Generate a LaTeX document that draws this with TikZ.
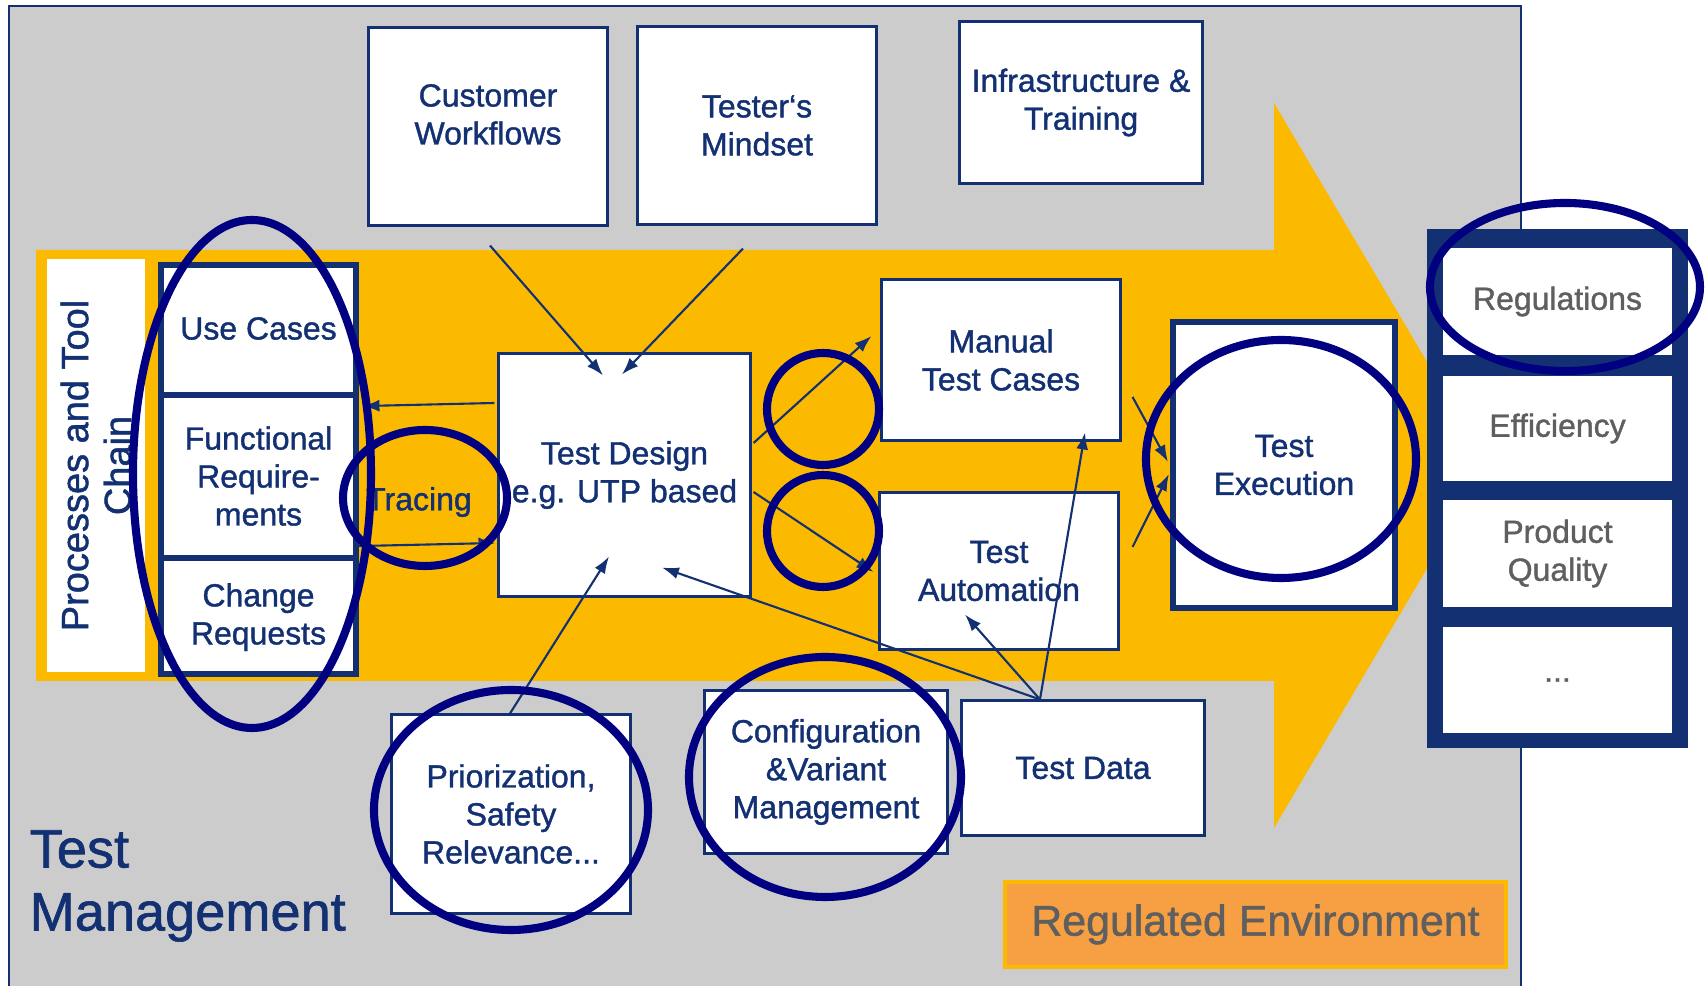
\documentclass[tikz,border=0pt]{standalone}
\usepackage{fontspec}
\setmainfont{Liberation Sans}[FakeBold=1.2]
\usetikzlibrary{shapes,arrows.meta,positioning,fit,calc}
\definecolor{tmgray}{RGB}{204,204,204}
\definecolor{tmorange}{RGB}{251,186,0}
\definecolor{tmnavy}{RGB}{19,49,114}
\definecolor{tmring}{RGB}{0,0,128}
\definecolor{tmtext}{RGB}{95,95,95}
\definecolor{tmregenv}{RGB}{247,159,67}

\begin{document}
\begin{tikzpicture}[x=0.01cm, y=-0.01cm, >={Latex[length=4.8pt,width=3.4pt]},
		box/.style={draw=tmnavy, line width=0.85pt, fill=white, inner sep=0pt, align=center, text=tmnavy, font=\fontsize{9.1}{10.8}\selectfont},
		goal/.style={fill=white, inner sep=0pt, minimum width=2.29cm, align=center, text=tmtext, font=\fontsize{9.1}{10.8}\selectfont},
		ring/.style={draw=tmring, line width=2.3pt},
		link/.style={->, draw=tmnavy, line width=0.6pt}]
				\useasboundingbox (0,0) rectangle (1708,986);
				\draw[fill=tmgray, draw=tmnavy, line width=0.6pt] (9,6) rectangle (1521,1000);
				\fill[tmorange] (36,250) -- (1274,250) -- (1274,103) -- (1488,465) -- (1274,828) -- (1274,681) -- (36,681) -- cycle;
				
				\node[fill=white, rotate=90, minimum width=4.13cm, minimum height=0.98cm, inner sep=0pt, align=center, text=tmnavy, font=\fontsize{10.8}{12.2}\selectfont] (proc) at (96,465.5) {Processes and Tool\\Chain};
				
				\node[box, minimum width=1.97cm, minimum height=1.29cm] (uc) at (258.5,328.5) {Use Cases};
				\node[box, minimum width=1.97cm, minimum height=1.60cm, below=0pt of uc] (fr) {Functional\\Require-\\ments};
				\node[box, minimum width=1.97cm, minimum height=1.16cm, below=0pt of fr] (cr) {Change\\Requests};
				\node[draw=tmnavy, line width=1.7pt, inner sep=-0.85pt, fit=(uc)(fr)(cr)] (stack) {};
				
				\node[box, minimum width=2.38cm, minimum height=1.97cm] (cw) at (488,126.5) {};
				\node[align=center, text=tmnavy, font=\fontsize{9.1}{10.8}\selectfont] (cwtext) at ($(cw.center)+(0,-12)$) {Customer\\Workflows};
				\node[box, minimum width=2.38cm, minimum height=1.97cm] (tm) at (757,125.5) {Tester‘s\\Mindset};
				\node[box, minimum width=2.42cm, minimum height=1.61cm] (it) at (1081,102.5) {Infrastructure \&\\Training};
				\node[box, minimum width=2.51cm, minimum height=2.42cm] (td) at (624.5,475) {Test Design\\e.g. UTP based};
				\node[box, minimum width=2.38cm, minimum height=1.60cm] (mtc) at (1001,360) {Manual\\Test Cases};
				\node[box, minimum width=2.38cm, minimum height=1.56cm] (ta) at (999,571) {Test\\Automation};
				\node[box, line width=1.7pt, minimum width=2.22cm, minimum height=2.86cm] (te) at (1284,465) {Test\\Execution};
				\node[box, minimum width=2.38cm, minimum height=1.98cm] (pr) at (511,814) {Priorization,\\Safety\\Relevance...};
				\node[box, minimum width=2.42cm, minimum height=1.62cm] (cv) at (826,772) {Configuration\\\&Variant\\Management};
				\node[box, minimum width=2.42cm, minimum height=1.34cm] (tdata) at (1083,768) {Test Data};
				
				\node[fill=tmnavy, minimum width=2.61cm, minimum height=5.19cm, inner sep=0pt] (goals) at (1557.5,488.5) {};
				\node[goal, minimum height=1.07cm] (reg) at (1557.5,301.5) {Regulations};
				\node[goal, minimum height=1.05cm] (eff) at (1557.5,428.5) {Efficiency};
				\node[goal, minimum height=1.07cm] (pq) at (1557.5,553.5) {Product\\Quality};
				\node[goal, minimum height=1.06cm] (more) at (1557.5,680) {...};
				
				\node[fill=tmregenv, draw=tmorange, line width=1pt, minimum width=5.01cm, minimum height=0.85cm, text=tmtext, font=\fontsize{12.2}{14}\selectfont] (regenv) at (1255.5,924.5) {Regulated Environment};
				\node[anchor=west, align=left, inner sep=0pt, text=tmnavy, font=\fontsize{15.4}{17.9}\selectfont] (title) at (29,886) {Test\\Management};
				\node[text=tmnavy, font=\fontsize{9.1}{10.8}\selectfont] (tracing) at (419,502) {Tracing};
				
				\draw[link] ($(cw.south)+(2,19)$) -- ($(td.north)+(-21.5,23)$);
				\draw[link] ($(tm.south)+(-14,23)$) -- ($(td.north)+(-2.5,22)$);
				\draw[link] ($(td.west)+(-3,-72)$) -- ($(fr.east)+(4,-70)$);
				\draw[link] ($(fr.east)+(0,70)$) -- ($(td.west)+(-2,68)$);
				\draw[link] ($(td.east)+(2,-32)$) -- ($(mtc.west)+(-9,-24)$);
				\draw[link] ($(td.east)+(2,17)$) -- ($(ta.west)+(-5,1)$);
				\draw[link] ($(mtc.east)+(11,37)$) -- ($(te.west)+(-2,-3)$);
				\draw[link] ($(ta.east)+(13,-24)$) -- ($(te.west)+(-1,9)$);
				\draw[link] ($(tdata.north)+(-43,0)$) -- ($(td.south)+(37.5,-30)$);
				\draw[link] ($(tdata.north)+(-43,0)$) -- ($(ta.south)+(-34,-36)$);
				\draw[link] ($(tdata.north)+(-43,0)$) -- ($(mtc.south)+(84,-9)$);
				\draw[link] ($(pr.north)+(-1,0)$) -- ($(td.south)+(-15.5,-41)$);
				
				\draw[ring] (252,474) ellipse [x radius=119, y radius=254];
				\draw[ring] (425,498) ellipse [x radius=82, y radius=68];
				\draw[ring] (823,409) ellipse [x radius=56, y radius=56];
				\draw[ring] (823,531) ellipse [x radius=56, y radius=56];
				\draw[ring] (1281,459) ellipse [x radius=135, y radius=119];
				\draw[ring] (1565,287) ellipse [x radius=135, y radius=84];
				\draw[ring] (511,810) ellipse [x radius=137, y radius=120];
				\draw[ring] (825,777) ellipse [x radius=136, y radius=120];
			\end{tikzpicture}
\end{document}
